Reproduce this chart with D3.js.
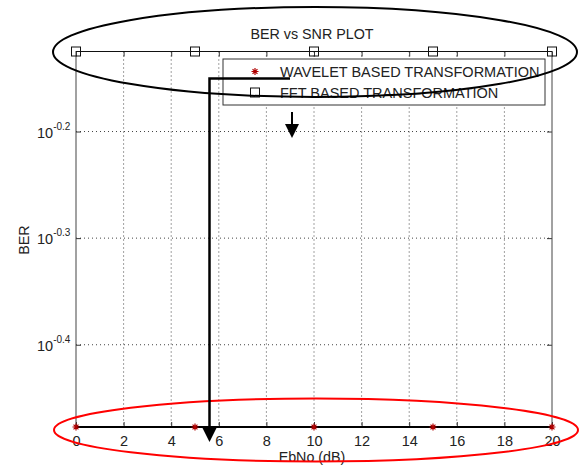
<!DOCTYPE html>
<html>
<head>
<meta charset="utf-8">
<script src="https://cdn.jsdelivr.net/npm/d3@7"></script>
<style>
  body { margin: 0; background: #fff; }
  text { font-family: "Liberation Sans", Arial, sans-serif; fill: #222; }
</style>
</head>
<body>
<div id="chart"></div>
<script>
// chart data
const ebno = [0, 5, 10, 15, 20];
const berWavelet = [0.3333, 0.3333, 0.3333, 0.3333, 0.3333];
const berFFT = [0.75, 0.75, 0.75, 0.75, 0.75];
const xTicks = [0, 2, 4, 6, 8, 10, 12, 14, 16, 18, 20];
const yTickExps = ["-0.2", "-0.3", "-0.4"];
const legendLabels = ["WAVELET BASED TRANSFORMATION", "FFT BASED TRANSFORMATION"];

// size setup
const W = 579, H = 465;
const margins = {top: 51.5, right: 27, bottom: 38, left: 76};
const plotW = W - margins.left - margins.right;
const plotH = H - margins.top - margins.bottom;

const svg = d3.select("#chart").append("svg")
    .attr("width", W).attr("height", H);

// scales
const x = d3.scaleLinear().domain([0, 20]).range([0, plotW]);
const y = d3.scaleLog().domain([0.3333, 0.75]).range([plotH, 0]);

const g = svg.append("g")
    .attr("transform", "translate(" + margins.left + "," + margins.top + ")");

// dotted grid
g.selectAll(".gx").data(xTicks.slice(1, -1)).enter().append("line")
    .attr("x1", d => x(d)).attr("x2", d => x(d))
    .attr("y1", 0).attr("y2", plotH)
    .attr("stroke", "#444").attr("stroke-dasharray", "1,3");
g.selectAll(".gy").data(yTickExps).enter().append("line")
    .attr("x1", 0).attr("x2", plotW)
    .attr("y1", d => y(Math.pow(10, +d))).attr("y2", d => y(Math.pow(10, +d)))
    .attr("stroke", "#444").attr("stroke-dasharray", "1,3");

// axes (ticks inward)
const xAxisB = d3.axisBottom(x).tickValues(xTicks).tickSize(-5).tickPadding(9).tickFormat(d3.format("d"));
const xAxisT = d3.axisTop(x).tickValues(xTicks).tickSize(-5).tickFormat("");
const yAxisL = d3.axisLeft(y).tickValues(yTickExps.map(e => Math.pow(10, +e))).tickSize(-5).tickFormat("");
const yAxisR = d3.axisRight(y).tickValues(yTickExps.map(e => Math.pow(10, +e))).tickSize(-5).tickFormat("");

function styleAxis(sel) {
    sel.select(".domain").remove();
    sel.selectAll(".tick line").attr("stroke", "#333");
    sel.selectAll(".tick text").attr("font-size", 14.5).attr("fill", "#222")
        .attr("font-family", "Liberation Sans, Arial, sans-serif");
}
g.append("g").attr("transform", "translate(0," + plotH + ")").call(xAxisB).call(styleAxis);
g.append("g").call(xAxisT).call(styleAxis);
g.append("g").call(yAxisL).call(styleAxis);
g.append("g").attr("transform", "translate(" + plotW + ",0)").call(yAxisR).call(styleAxis);

// y tick labels 10^exp
const yLab = g.selectAll(".ylab").data(yTickExps).enter().append("text")
    .attr("x", -39).attr("y", d => y(Math.pow(10, +d)) + 6)
    .attr("font-size", 14.5);
yLab.append("tspan").text("10");
yLab.append("tspan").attr("dy", -8).attr("font-size", 10).text(d => d);

// box
g.append("rect").attr("width", plotW).attr("height", plotH)
    .attr("fill", "none").attr("stroke", "#444").attr("stroke-width", 1);
g.append("line").attr("x1", 0).attr("x2", plotW).attr("y1", 0).attr("y2", 0)
    .attr("stroke", "#111");

// wavelet series: thick line + red stars
g.append("path").datum(ebno.map((e, i) => [e, berWavelet[i]]))
    .attr("d", d3.line().x(d => x(d[0])).y(d => y(d[1])))
    .attr("stroke", "#000").attr("stroke-width", 2.2).attr("fill", "none");

function star(sel, size) {
    const s = size;
    sel.append("path")
        .attr("d", "M" + (-s) + ",0H" + s + "M0," + (-s) + "V" + s +
            "M" + (-s * 0.7) + "," + (-s * 0.7) + "L" + (s * 0.7) + "," + (s * 0.7) +
            "M" + (-s * 0.7) + "," + (s * 0.7) + "L" + (s * 0.7) + "," + (-s * 0.7))
        .attr("stroke", "#b00000").attr("stroke-width", 1.2).attr("fill", "none");
}
ebno.forEach((e, i) => {
    g.append("g").attr("transform", "translate(" + x(e) + "," + y(berWavelet[i]) + ")").call(star, 3.5);
});

// FFT series: squares
g.selectAll(".sq").data(ebno).enter().append("rect")
    .attr("x", d => x(d) - 4.5).attr("y", (d, i) => y(berFFT[i]) - 4.5)
    .attr("width", 9).attr("height", 9)
    .attr("fill", "none").attr("stroke", "#111").attr("stroke-width", 1);

// legend
const leg = svg.append("g").attr("transform", "translate(223,59)");
leg.append("rect").attr("width", 322).attr("height", 46)
    .attr("fill", "#fff").attr("stroke", "#333");
leg.append("g").attr("transform", "translate(32,12.5)").call(star, 3.5);
leg.append("rect").attr("x", 27.5).attr("y", 29).attr("width", 9).attr("height", 9)
    .attr("fill", "none").attr("stroke", "#111");
leg.selectAll(".lt").data(legendLabels).enter().append("text")
    .attr("x", 57).attr("y", (d, i) => 18 + i * 21)
    .attr("font-size", 14.5).text(d => d);

// title and axis labels
svg.append("text").attr("x", 312).attr("y", 39).attr("text-anchor", "middle")
    .attr("font-size", 14.3).text("BER vs SNR PLOT");
svg.append("text").attr("x", 312).attr("y", 462).attr("text-anchor", "middle")
    .attr("font-size", 14.3).text("EbNo (dB)");
svg.append("text").attr("transform", "translate(28.5,240) rotate(-90)")
    .attr("text-anchor", "middle").attr("font-size", 14.3).text("BER");

// annotations: ellipses
svg.append("ellipse").attr("cx", 315).attr("cy", 52).attr("rx", 262).attr("ry", 45)
    .attr("fill", "none").attr("stroke", "#000").attr("stroke-width", 2);
svg.append("ellipse").attr("cx", 316).attr("cy", 430).attr("rx", 262).attr("ry", 31.5)
    .attr("fill", "none").attr("stroke", "#f00").attr("stroke-width", 2);

// annotations: arrows
svg.append("path").attr("d", "M290,78.5H209.5V428")
    .attr("fill", "none").attr("stroke", "#000").attr("stroke-width", 2.5);
svg.append("path").attr("d", "M202,427L217,427L209.5,442Z").attr("fill", "#000");
svg.append("path").attr("d", "M292,112V126")
    .attr("stroke", "#000").attr("stroke-width", 2);
svg.append("path").attr("d", "M285,124L299,124L292,138Z").attr("fill", "#000");
</script>
</body>
</html>
